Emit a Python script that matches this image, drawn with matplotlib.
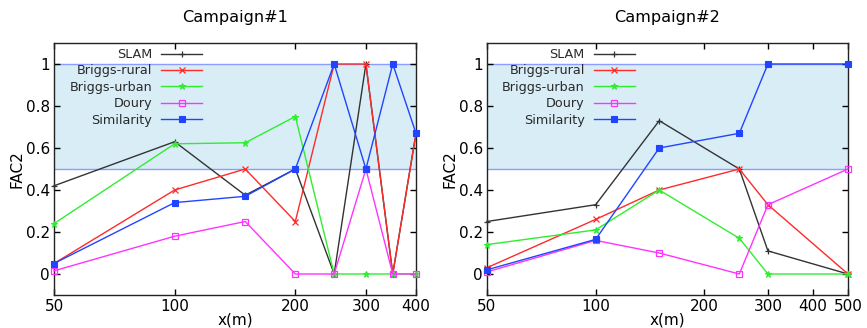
import matplotlib
matplotlib.use("Agg")
import matplotlib.pyplot as plt
from matplotlib.ticker import FixedLocator, FixedFormatter, NullLocator

# ---- data ----
series_names = ["SLAM", "Briggs-rural", "Briggs-urban", "Doury", "Similarity"]

c1_x = [50, 100, 150, 200, 250, 300, 350, 400]
c1_slam = [0.42, 0.63, 0.375, 0.50, 0.0, 1.0, 0.0, 0.67]
c1_rural = [0.05, 0.40, 0.50, 0.25, 1.0, 1.0, 0.0, 0.67]
c1_urban = [0.24, 0.62, 0.625, 0.75, 0.0, 0.0, 0.0, 0.0]
c1_doury = [0.015, 0.18, 0.25, 0.0, 0.0, 0.50, 0.0, 0.0]
c1_sim = [0.05, 0.34, 0.37, 0.50, 1.0, 0.50, 1.0, 0.67]

c2_x = [50, 100, 150, 250, 300, 500]
c2_slam = [0.25, 0.33, 0.73, 0.50, 0.11, 0.0]
c2_rural = [0.03, 0.26, 0.40, 0.50, 0.33, 0.0]
c2_urban = [0.14, 0.21, 0.40, 0.17, 0.0, 0.0]
c2_doury = [0.01, 0.16, 0.10, 0.0, 0.33, 0.50]
c2_sim = [0.02, 0.165, 0.60, 0.67, 1.0, 1.0]

c1_xticks = [50, 100, 200, 300, 400]
c2_xticks = [50, 100, 200, 300, 400, 500]
yticks = [0, 0.2, 0.4, 0.6, 0.8, 1]
ytick_labels = ["0", "0.2", "0.4", "0.6", "0.8", "1"]
band = (0.5, 1.0)
titles = ["Campaign#1", "Campaign#2"]

styles = [
    dict(color="#333333", marker="+", ms=5, mew=0.9),
    dict(color="#ff2a2a", marker="x", ms=4, mew=0.9),
    dict(color="#2fee2f", marker="*", ms=5, mew=0.8),
    dict(color="#ff33ff", marker="s", ms=4.5, mfc="none", mew=0.9),
    dict(color="#2244ff", marker="s", ms=4.5, mew=0.8),
]

plt.rcParams["font.family"] = ["DejaVu Sans"]

fig = plt.figure(figsize=(8.67, 3.28), dpi=100)
W, H = 867, 328
ax_b = (328 - 295) / H
ax_h = 252 / H
ax1 = fig.add_axes([54 / W, ax_b, 362 / W, ax_h])
ax2 = fig.add_axes([487 / W, ax_b, 361 / W, ax_h])

panels = [
    (ax1, c1_x, [c1_slam, c1_rural, c1_urban, c1_doury, c1_sim], c1_xticks, (50, 400)),
    (ax2, c2_x, [c2_slam, c2_rural, c2_urban, c2_doury, c2_sim], c2_xticks, (50, 500)),
]

for i, (ax, xs, ys_list, xt, xl) in enumerate(panels):
    ax.axhspan(band[0], band[1], color="#d9edf7", zorder=0, lw=0)
    ax.axhline(band[0], color="#8c9cff", lw=1.0, zorder=1)
    ax.axhline(band[1], color="#8c9cff", lw=1.0, zorder=1)
    for name, ys, st in zip(series_names, ys_list, styles):
        ax.plot(xs, ys, label=name, lw=1.0, clip_on=False, zorder=3, **st)
    ax.set_xscale("log")
    ax.set_xlim(*xl)
    ax.set_ylim(-0.1, 1.1)
    ax.xaxis.set_major_locator(FixedLocator(xt))
    ax.xaxis.set_major_formatter(FixedFormatter([str(v) for v in xt]))
    ax.xaxis.set_minor_locator(NullLocator())
    ax.set_yticks(yticks)
    ax.set_yticklabels(ytick_labels)
    ax.tick_params(direction="in", top=True, right=True, length=4, width=1,
                   labelsize=11, pad=3)
    ax.tick_params(axis="x", pad=3)
    for sp in ax.spines.values():
        sp.set_linewidth(1.0)
        sp.set_color("#222222")
    ax.set_title(titles[i], fontsize=11.6, pad=15)
    ax.set_xlabel("x(m)", fontsize=11, labelpad=-1)
    ax.set_ylabel("FAC2", fontsize=11, labelpad=1)
    leg = ax.legend(loc="upper right", bbox_to_anchor=(0.409, 0.98),
                    frameon=False, markerfirst=False, fontsize=9.2,
                    handlelength=3.2, handletextpad=0.7, labelspacing=0.27,
                    borderpad=0, borderaxespad=0, numpoints=1)
    for t in leg.get_texts():
        t.set_color("#2a2a2a")
        t.set_ha("right")

fig.savefig("out.png", dpi=100)
